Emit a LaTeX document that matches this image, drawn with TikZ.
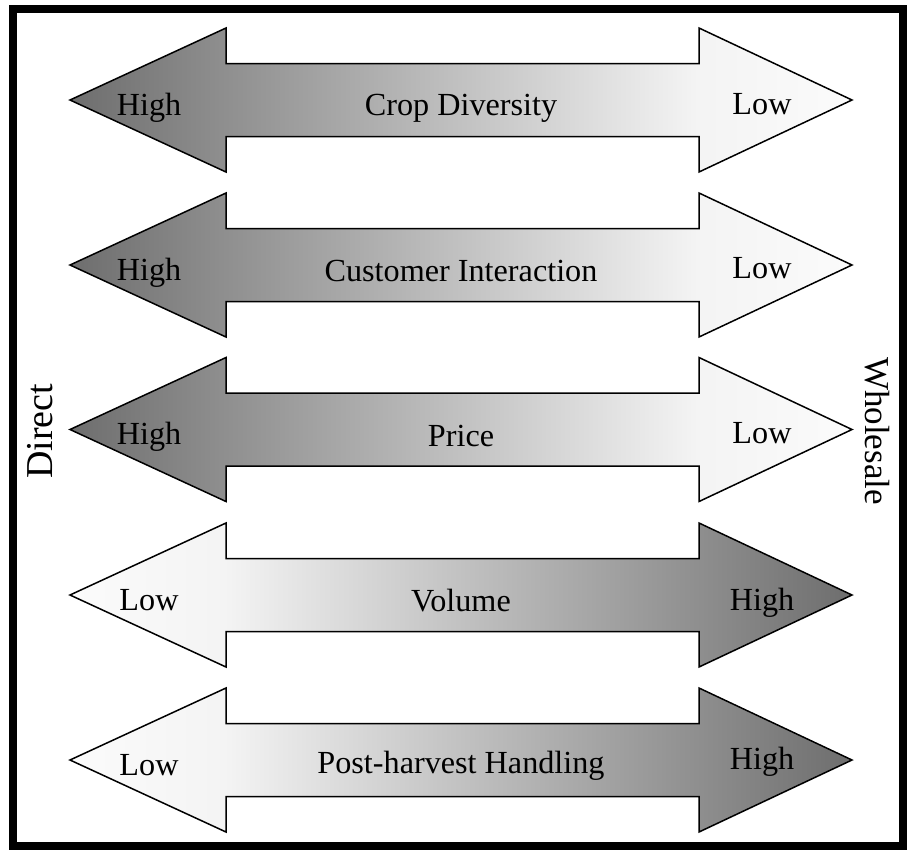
\documentclass[tikz,border=0pt]{standalone}
\usepackage{fontspec}
\setmainfont{Liberation Serif}
\usepackage{tikz}

\definecolor{rampdark}{gray}{0.43}
\definecolor{ramppale}{gray}{0.955}
\definecolor{ramplight}{gray}{0.985}
\pgfdeclarehorizontalshading{rampleft}{100bp}{color(0bp)=(rampdark); color(25bp)=(rampdark); color(65bp)=(ramppale); color(75bp)=(ramplight); color(100bp)=(ramplight)}
\pgfdeclarehorizontalshading{rampright}{100bp}{color(0bp)=(ramplight); color(25bp)=(ramplight); color(35bp)=(ramppale); color(75bp)=(rampdark); color(100bp)=(rampdark)}

\begin{document}
\begin{tikzpicture}[x=1pt, y=-1pt,
    every node/.style={font=\fontsize{32.2}{38}\selectfont, anchor=base},
    bararrow/.style={draw=black, line width=1.5pt, line join=miter, shade}]
    \useasboundingbox (0,0) rectangle (911,852);

    % Frame round the whole chart
    \draw[line width=8pt] (12.5,9) rectangle (903,845.5);

    % Arrows that are high on the direct side
    \draw[bararrow, shading=rampleft] (70,100) -- ++(156,-72) -- ++(0,35.5) -- ++(473,0) -- ++(0,-35.5) -- ++(153,72) -- ++(-153,72) -- ++(0,-35.5) -- ++(-473,0) -- ++(0,35.5) -- cycle;
    \draw[bararrow, shading=rampleft] (70,265) -- ++(156,-72) -- ++(0,35.5) -- ++(473,0) -- ++(0,-35.5) -- ++(153,72) -- ++(-153,72) -- ++(0,-35.5) -- ++(-473,0) -- ++(0,35.5) -- cycle;
    \draw[bararrow, shading=rampleft] (70,429.5) -- ++(156,-72) -- ++(0,35.5) -- ++(473,0) -- ++(0,-35.5) -- ++(153,72) -- ++(-153,72) -- ++(0,-35.5) -- ++(-473,0) -- ++(0,35.5) -- cycle;

    % Arrows that are high on the wholesale side
    \draw[bararrow, shading=rampright] (70,595) -- ++(156,-72) -- ++(0,35.5) -- ++(473,0) -- ++(0,-35.5) -- ++(153,72) -- ++(-153,72) -- ++(0,-35.5) -- ++(-473,0) -- ++(0,35.5) -- cycle;
    \draw[bararrow, shading=rampright] (70,760) -- ++(156,-72) -- ++(0,35.5) -- ++(473,0) -- ++(0,-35.5) -- ++(153,72) -- ++(-153,72) -- ++(0,-35.5) -- ++(-473,0) -- ++(0,35.5) -- cycle;

    % Labels on the arrows
    \node (crophigh) at (149,115) {High};
    \node (croptext) at (461,115) {Crop Diversity};
    \node (croplow) at (762,114) {Low};

    \node (custhigh) at (149,280) {High};
    \node (custtext) at (461,281) {Customer Interaction};
    \node (custlow) at (762,278.5) {Low};

    \node (pricehigh) at (149,444) {High};
    \node (pricetext) at (461,446) {Price};
    \node (pricelow) at (762,443) {Low};

    \node (vollow) at (149,610) {Low};
    \node (voltext) at (461,611) {Volume};
    \node (volhigh) at (762,610) {High};

    \node (postlow) at (149,775) {Low};
    \node (posttext) at (461,773) {Post-harvest Handling};
    \node (posthigh) at (762,769) {High};

    % Side titles
    \node[rotate=90, font=\fontsize{38}{44}\selectfont] (direct) at (52,431.5) {Direct};
    \node[rotate=-90, font=\fontsize{35}{42}\selectfont] (wholesale) at (865,431) {Wholesale};
\end{tikzpicture}
\end{document}
